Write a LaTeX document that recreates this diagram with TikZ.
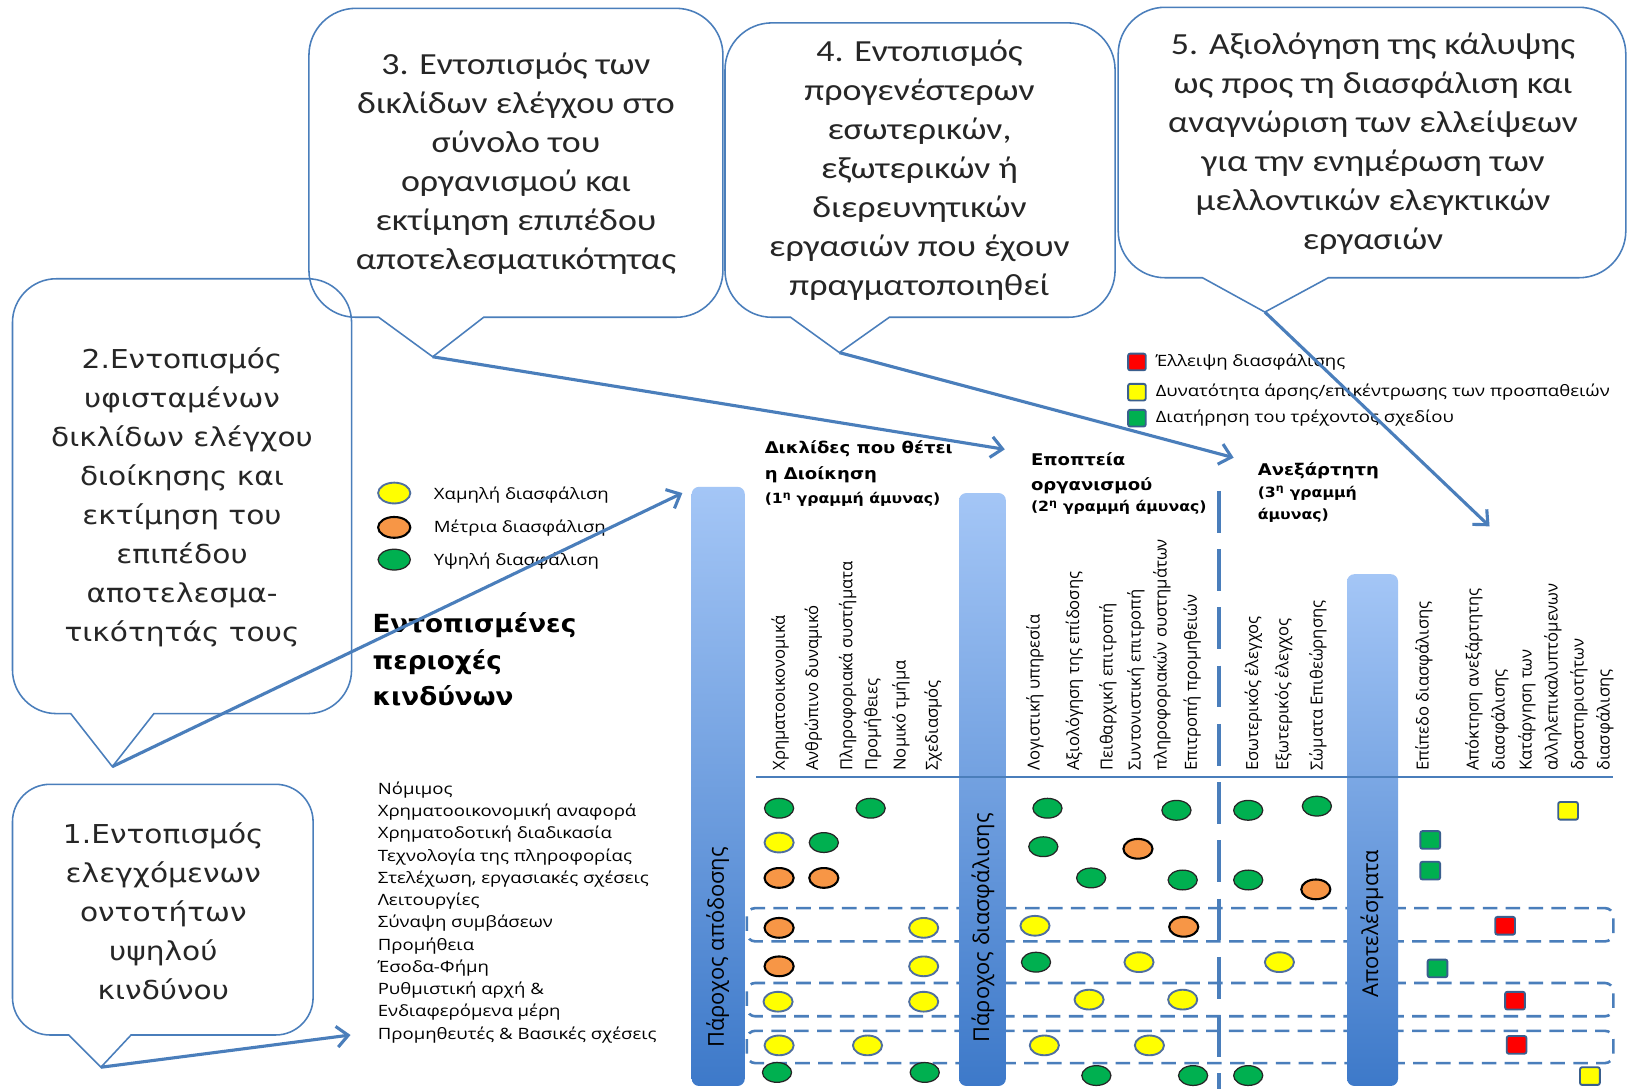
\documentclass[tikz,border=0pt]{standalone}
\usepackage{fontspec}
\setmainfont{Open Sans}
\newfontfamily\wideos[FakeStretch=1.19]{Open Sans}
\newfontfamily\dvfont[FakeStretch=1.14]{DejaVu Sans}
\newfontfamily\dvhead[FakeStretch=1.12]{DejaVu Sans}
\newfontfamily\dvrisk[FakeStretch=1.05]{DejaVu Sans}
\newfontfamily\calfont[FakeStretch=1.17]{Carlito}
\usetikzlibrary{shapes.geometric,arrows.meta}
\definecolor{cblue}{HTML}{4A7EBB}
\definecolor{barT}{HTML}{A4C6F6}
\definecolor{barB}{HTML}{3D79C9}
\definecolor{dG}{HTML}{00B050}
\definecolor{dY}{HTML}{FFFF00}
\definecolor{dO}{HTML}{F79646}
\definecolor{dR}{HTML}{FF0000}
\definecolor{yOut}{HTML}{4F6F9F}
\definecolor{sqOut}{HTML}{3A5F8E}
\def\crad{45}
\newcommand\callshape[9]{%
\draw[callline] (#6,#5) -- (#8,#9) -- (#7,#5) -- ({#4-\crad},#5) .. controls ({#4-0.45*\crad},#5) and (#4,{#5-0.45*\crad}) .. (#4,{#5-\crad}) -- (#4,{#3+\crad}) .. controls (#4,{#3+0.45*\crad}) and ({#4-0.45*\crad},#3) .. ({#4-\crad},#3) -- ({#2+\crad},#3) .. controls ({#2+0.45*\crad},#3) and (#2,{#3+0.45*\crad}) .. (#2,{#3+\crad}) -- (#2,{#5-\crad}) .. controls (#2,{#5-0.45*\crad}) and ({#2+0.45*\crad},#5) .. ({#2+\crad},#5) -- cycle;}
\newcommand\rl[3]{\node[rlab] (#1) at (#2,741) {#3};}
\begin{document}
\begin{tikzpicture}[x=1pt,y=-1pt,
  callline/.style={draw=cblue, line width=1.5pt},
  arr/.style={draw=cblue, line width=3pt, -{Straight Barb[length=11pt,width=20pt,line width=3pt]}},
  ctxt/.style={align=center, font=\calfont\fontsize{29.5}{37.5}\selectfont, text=black!85},
  dtxt/.style={align=center, font=\dvfont\fontsize{25}{37.5}\selectfont, text=black!85},
  band/.style={draw=cblue, line width=2.5pt, dash pattern=on 14pt off 8pt, rounded corners=8pt},
  dotbase/.style={ellipse, minimum width=28pt, minimum height=19pt, inner sep=0pt},
  dG/.style={dotbase, fill=dG, draw=black!85, line width=1.2pt},
  dY/.style={dotbase, fill=dY, draw=yOut, line width=1.8pt},
  dO/.style={dotbase, fill=dO, draw=black, line width=2pt},
  sqb/.style={rectangle, draw=sqOut, line width=1.8pt, minimum width=19pt, minimum height=17pt, inner sep=0pt, rounded corners=2pt},
  sG/.style={sqb, fill=dG}, sY/.style={sqb, fill=dY}, sR/.style={sqb, fill=dR},
  rlab/.style={rotate=90, anchor=west, inner sep=0pt, align=left, font=\fontsize{16}{25}\selectfont},
  hdr/.style={anchor=west, inner sep=0pt, font=\dvhead\bfseries\fontsize{15.5}{20}\selectfont},
  hdrs/.style={anchor=west, inner sep=0pt, font=\dvhead\bfseries\fontsize{13.5}{20}\selectfont},
  leg/.style={anchor=west, inner sep=0pt, font=\wideos\fontsize{15}{20}\selectfont},
  bartxt/.style={rotate=90, inner sep=0pt, font=\fontsize{21}{24}\selectfont}
]
\useasboundingbox[fill=white] (0,0) rectangle (1568,1047);

% callouts
\def\crad{45}
\callshape{c3s}{297}{8}{695}{305}{364}{465}{416}{343}
\def\crad{45}
\callshape{c4s}{697}{22}{1072}{305}{760}{855}{807}{339}
\def\crad{45}
\callshape{c5s}{1075}{7}{1563}{267}{1156}{1277}{1216}{300}
\def\crad{42}
\callshape{c2s}{12}{268}{338}{686}{68}{148}{108}{737}
\def\crad{36}
\callshape{c1s}{12}{754}{301}{995}{66}{126}{97}{1026}

\node[ctxt] (c3) at (496,157) {3. Εντοπισμός των\\δικλίδων ελέγχου στο\\σύνολο του\\οργανισμού και\\εκτίμηση επιπέδου\\αποτελεσματικότητας};
\node[ctxt] (c4) at (884,164) {4. Εντοπισμός\\προγενέστερων\\εσωτερικών,\\εξωτερικών ή\\διερευνητικών\\εργασιών που έχουν\\πραγματοποιηθεί};
\node[ctxt] (c5) at (1320,138) {5. Αξιολόγηση της κάλυψης\\ως προς τη διασφάλιση και\\αναγνώριση των ελλείψεων\\για την ενημέρωση των\\μελλοντικών ελεγκτικών\\εργασιών};
\node[dtxt] (c2) at (175,478) {2.Εντοπισμός\\υφισταμένων\\δικλίδων ελέγχου\\διοίκησης και\\εκτίμηση του\\επιπέδου\\αποτελεσμα-\\τικότητάς τους};
\node[dtxt] (c1) at (157,876) {1.Εντοπισμός\\ελεγχόμενων\\οντοτήτων\\υψηλού\\κινδύνου};

% dashed bands
\draw[band] (718,873) rectangle (1551,905);
\draw[band] (718,945) rectangle (1551,977);
\draw[band] (718,991) rectangle (1551,1022);

% bars
\shade[top color=barT, bottom color=barB, rounded corners=7pt] (665,468) rectangle (716,1044);
\shade[top color=barT, bottom color=barB, rounded corners=7pt] (922,474) rectangle (967,1044);
\shade[top color=barT, bottom color=barB, rounded corners=7pt] (1295,552) rectangle (1344,1044);
\node[bartxt] (b1) at (690,911) {Πάροχος απόδοσης};
\node[bartxt] (b2) at (945,892) {Πάροχος διασφάλισης};
\node[bartxt] (b3) at (1319,888) {Αποτελέσματα};

% lines
\draw[cblue, line width=2.5pt] (727,747) -- (1551,747);
\draw[cblue, line width=4.5pt, dash pattern=on 40pt off 16pt] (1172,472) -- (1172,1047);

% headers
\node[hdr] (h1a) at (735,431) {Δικλίδες που θέτει};
\node[hdr] (h1b) at (735,456) {η Διοίκηση};
\node[hdrs] (h1c) at (735,480) {(1\textsuperscript{η} γραμμή άμυνας)};
\node[hdr] (h2a) at (991,441) {Εποπτεία};
\node[hdr] (h2b) at (991,467) {οργανισμού};
\node[hdrs] (h2c) at (991,488) {(2\textsuperscript{η} γραμμή άμυνας)};
\node[hdr] (h3a) at (1209,453) {Ανεξάρτητη};
\node[hdrs] (h3b) at (1209,474) {(3\textsuperscript{η} γραμμή};
\node[hdrs] (h3c) at (1209,495) {άμυνας)};

% rotated column labels
\rl{k1}{750}{Χρηματοοικονομικά}
\rl{k2}{782}{Ανθρώπινο δυναμικό}
\rl{k3}{815}{Πληροφοριακά συστήματα}
\rl{k4}{839}{Προμήθειες}
\rl{k5}{866}{Νομικό τμήμα}
\rl{k6}{897}{Σχεδιασμός}
\rl{k7}{995}{Λογιστική υπηρεσία}
\rl{k8}{1033}{Αξιολόγηση της επίδοσης}
\rl{k9}{1065}{Πειθαρχική επιτροπή}
\rl{k10}{1104.5}{Συντονιστική επιτροπή\\πληροφοριακών συστημάτων}
\rl{k11}{1146}{Επιτροπή προμηθειών}
\rl{k12}{1205}{Εσωτερικός έλεγχος}
\rl{k13}{1234}{Εξωτερικός έλεγχος}
\rl{k14}{1267}{Σώματα Επιθεώρησης}
\rl{k15}{1369}{Επίπεδο διασφάλισης}
\rl{k16}{1429.5}{Απόκτηση ανεξάρτητης\\διασφάλισης}
\rl{k17}{1505.5}{Κατάργηση των\\αλληλεπικαλυπτόμενων\\δραστηριοτήτων\\διασφάλισης}

% left legend
\node[dY, minimum width=31pt, minimum height=20pt] (l1) at (379,474) {};
\node[dO, minimum width=31pt, minimum height=20pt] (l2) at (379,507) {};
\node[dG, minimum width=31pt, minimum height=20pt] (l3) at (379,538) {};
\node[leg] (lt1) at (417,476) {Χαμηλή διασφάλιση};
\node[leg] (lt2) at (417,508) {Μέτρια διασφάλιση};
\node[leg] (lt3) at (417,539) {Υψηλή διασφάλιση};

% right legend
\node[sR, minimum width=17pt, minimum height=16pt] (q1) at (1093,348) {};
\node[sY, minimum width=17pt, minimum height=16pt] (q2) at (1093,377) {};
\node[sG, minimum width=17pt, minimum height=16pt] (q3) at (1093,402) {};
\node[leg] (qt1) at (1111,348) {Έλλειψη διασφάλισης};
\node[leg] (qt2) at (1111,377) {Δυνατότητα άρσης/επικέντρωσης των προσπαθειών};
\node[leg] (qt3) at (1111,402) {Διατήρηση του τρέχοντος σχεδίου};

% risk areas title and rows
\node[anchor=west, inner sep=0pt, align=left, font=\dvrisk\bfseries\fontsize{24}{35}\selectfont] (risk) at (358,634) {Εντοπισμένες\\περιοχές\\κινδύνων};
\node[anchor=west, inner sep=0pt, align=left, font=\wideos\fontsize{15}{21.4}\selectfont] (rows) at (363,877) {Νόμιμος\\Χρηματοοικονομική αναφορά\\Χρηματοδοτική διαδικασία\\Τεχνολογία της πληροφορίας\\Στελέχωση, εργασιακές σχέσεις\\Λειτουργίες\\Σύναψη συμβάσεων\\Προμήθεια\\Έσοδα-Φήμη\\Ρυθμιστική αρχή \&\\Ενδιαφερόμενα μέρη\\Προμηθευτές \& Βασικές σχέσεις};

% dots
\foreach \x/\y/\s [count=\i] in {
 749/777/dG, 837/777/dG, 1007/777/dG, 1131/779/dG, 1200/779/dG, 1266/775/dG,
 749/810/dY, 792/810/dG, 1003/814/dG, 1094/816/dO,
 749/844/dO, 792/844/dO, 1049/844/dG, 1137/846/dG, 1200/846/dG, 1265/855/dO,
 749/892/dO, 888/892/dY, 995/890/dY, 1138/891/dO,
 749/929/dO, 888/929/dY, 996/925/dG, 1095/925/dY, 1230/925/dY,
 748/963/dY, 888/963/dY, 1047/961/dY, 1137/961/dY,
 749/1005/dY, 834/1005/dY, 1004/1005/dY, 1105/1005/dY,
 747/1031/dG, 889/1031/dG, 1054/1034/dG, 1147/1034/dG, 1200/1034/dG}
 \node[\s] (d\i) at (\x,\y) {};

% squares
\foreach \x/\y/\s [count=\i] in {
 1507.5/779.5/sY, 1375/807.5/sG, 1375/837/sG, 1447/890/sR,
 1382/931/sG, 1456.5/962/sR, 1458/1004.5/sR, 1528.5/1034.5/sY}
 \node[\s] (s\i) at (\x,\y) {};

% arrows
\coordinate (t1) at (97,1026);
\coordinate (t2) at (108,737);
\coordinate (t3) at (416,343);
\coordinate (t4) at (807,339);
\coordinate (t5) at (1216,300);
\coordinate (e1) at (337,995);
\coordinate (e2) at (656,474);
\coordinate (e3) at (966,432);
\coordinate (e4) at (1186,440);
\coordinate (e5) at (1432,506);
\draw[arr] (t1) -- (e1);
\draw[arr] (t2) -- (e2);
\draw[arr] (t3) -- (e3);
\draw[arr] (t4) -- (e4);
\draw[arr] (t5) -- (e5);
\end{tikzpicture}
\end{document}
